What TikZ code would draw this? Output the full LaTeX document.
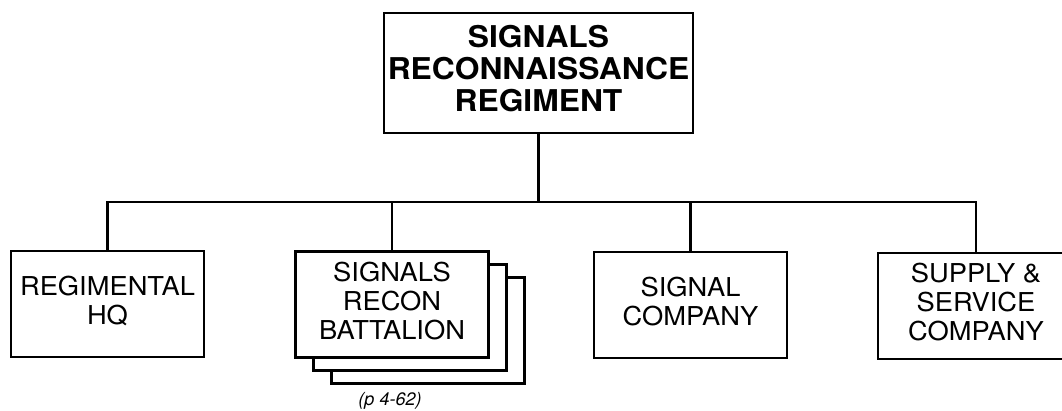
\documentclass[tikz,border=0pt]{standalone}
\usepackage{graphicx}
\usepackage{fontspec}
\setmainfont{TeX Gyre Heros}
\usetikzlibrary{shadows}
% lines of a box label, stretched sideways
\newcommand{\wlines}[2][1.05]{\scalebox{#1}[1]{\begin{tabular}{@{}c@{}}#2\end{tabular}}}

\begin{document}
\begin{tikzpicture}[x=1pt, y=1pt,
  unit/.style={draw, line width=2.3pt, fill=white, minimum width=193pt,
    minimum height=106pt, align=center, inner sep=0pt,
    font=\fontsize{26}{29}\selectfont},
  sheet/.style={draw=black, fill=white, line width=2.3pt, shadow scale=1},
  link/.style={line width=2.3pt}]
  \useasboundingbox (0,0) rectangle (1062,411);
  % ---- regiment ----
  \node[unit, minimum width=309pt, minimum height=120pt,
    font=\bfseries\fontsize{30}{31.5}\selectfont] (regt) at (538.5,338)
    {\wlines[1.06]{SIGNALS\\RECONNAISSANCE\\REGIMENT}};
  % ---- subordinate units ----
  \node[unit] (hq) at (107.5,107) {\wlines{REGIMENTAL\\HQ}};
  \node[unit,
    copy shadow={sheet, shadow xshift=36pt, shadow yshift=-26pt},
    copy shadow={sheet, shadow xshift=18pt, shadow yshift=-13pt}]
    (bn) at (392,106.5) {\wlines{SIGNALS\\RECON\\BATTALION}};
  \node[unit] (sig) at (690.5,106) {\wlines{SIGNAL\\COMPANY}};
  \node[unit, minimum width=196pt] (svc) at (976,105) {\wlines{SUPPLY \&\\SERVICE\\COMPANY}};
  \node[font=\itshape\fontsize{18}{20}\selectfont] (pref) at (390,10) {(p 4-62)};
  % ---- connectors ----
  \coordinate (bus) at (538.5,209);
  \draw[link] (regt.south) -- (regt.south |- bus);
  \draw[link] (hq.north) |- (svc.north |- bus) -- (svc.north);
  \draw[link] (bn.north) -- (bn.north |- bus);
  \draw[link] (sig.north) -- (sig.north |- bus);
\end{tikzpicture}
\end{document}
